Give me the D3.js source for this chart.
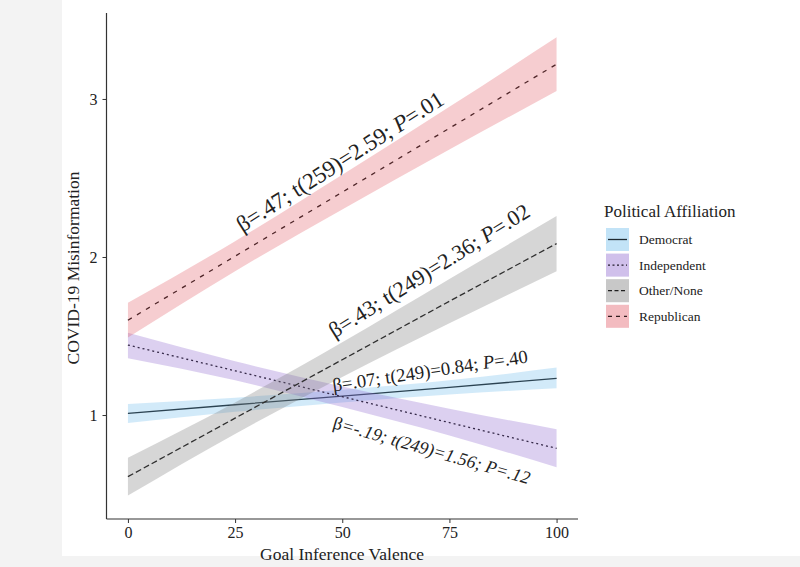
<!DOCTYPE html>
<html>
<head>
<meta charset="utf-8">
<script src="https://cdn.jsdelivr.net/npm/d3@7"></script>
<style>
  html, body { margin: 0; padding: 0; background: #ffffff; }
  svg { display: block; }
  text { font-family: "Liberation Serif", "DejaVu Serif", serif; fill: #222; }
</style>
</head>
<body>
<svg id="chart" width="800" height="567"></svg>
<script>
// ---- data ----
const groups = ["Democrat", "Independent", "Other/None", "Republican"];
const xValues = [0, 25, 50, 75, 100];
const fitDemocrat    = [1.01, 1.065, 1.12, 1.175, 1.232];
const loDemocrat     = [0.95, 1.02, 1.08, 1.13, 1.17];
const hiDemocrat     = [1.07, 1.11, 1.16, 1.22, 1.30];
const fitIndependent = [1.443, 1.28, 1.116, 0.952, 0.789];
const loIndependent  = [1.36, 1.22, 1.05, 0.87, 0.67];
const hiIndependent  = [1.52, 1.34, 1.18, 1.04, 0.91];
const fitOther       = [0.61, 0.98, 1.35, 1.72, 2.085];
const loOther        = [0.49, 0.88, 1.24, 1.58, 1.91];
const hiOther        = [0.73, 1.08, 1.46, 1.86, 2.26];
const fitRepublican  = [1.60, 2.005, 2.41, 2.815, 3.22];
const loRepublican   = [1.49, 1.91, 2.30, 2.68, 3.05];
const hiRepublican   = [1.71, 2.10, 2.52, 2.95, 3.39];
const xTicks = [0, 25, 50, 75, 100];
const yTicks = [1, 2, 3];
const xTitle = "Goal Inference Valence";
const yTitle = "COVID-19 Misinformation";
const legendTitle = "Political Affiliation";
// annotation parts: [text, italic]
const annRepublican  = [["β=.47; t(259)=2.59; ", false], ["P", true], ["=.01", false]];
const annOther       = [["β=.43; t(249)=2.36; ", false], ["P", true], ["=.02", false]];
const annDemocrat    = [["β=.07; t(249)=0.84; ", false], ["P", true], ["=.40", false]];
const annIndependent = [["β", false], ["=-.19; t(249)=1.56; P=.12", true]];

// ---- styles ----
const ribbonColor = {
  "Democrat": "rgb(105,185,235)",
  "Independent": "rgb(138,98,205)",
  "Other/None": "rgb(118,118,118)",
  "Republican": "rgb(225,88,98)"
};
const ribbonOpacity = 0.3;
const dashes = {
  "Democrat": null,
  "Independent": "2,3",
  "Other/None": "6,3",
  "Republican": "4.5,6"
};
const legendDashes = {
  "Democrat": null,
  "Independent": "2,2.5",
  "Other/None": "4,2.5",
  "Republican": "4,4"
};

const series = [
  { name: "Democrat", fit: fitDemocrat, lo: loDemocrat, hi: hiDemocrat },
  { name: "Independent", fit: fitIndependent, lo: loIndependent, hi: hiIndependent },
  { name: "Other/None", fit: fitOther, lo: loOther, hi: hiOther },
  { name: "Republican", fit: fitRepublican, lo: loRepublican, hi: hiRepublican }
];

const svg = d3.select("#chart");

// background (light grey margins of the screenshot)
svg.append("rect").attr("x", 0).attr("y", 0).attr("width", 800).attr("height", 567).attr("fill", "#f3f3f3");
svg.append("rect").attr("x", 62).attr("y", 0).attr("width", 738).attr("height", 556).attr("fill", "#ffffff");

const x = d3.scaleLinear().domain([-5, 105]).range([106.5, 578]);
const y = d3.scaleLinear().domain([0.342, 3.544]).range([519, 13]);

const g = svg.append("g");

// lines first, ribbons over them (tints the lines like the reference)
const line = d3.line().x((d) => x(d.x)).y((d) => y(d.v));
const area = d3.area().x((d) => x(d.x)).y0((d) => y(d.lo)).y1((d) => y(d.hi)).curve(d3.curveMonotoneX);

series.forEach((s) => {
  const pts = xValues.map((xv, i) => ({ x: xv, v: s.fit[i], lo: s.lo[i], hi: s.hi[i] }));
  g.append("path")
    .attr("d", line(pts))
    .attr("fill", "none")
    .attr("stroke", "#111")
    .attr("stroke-width", 1.3)
    .attr("stroke-dasharray", dashes[s.name]);
  g.append("path")
    .attr("d", area(pts))
    .attr("fill", ribbonColor[s.name])
    .attr("fill-opacity", ribbonOpacity);
});

// axes
const axisColor = "#333";
const xAxis = svg.append("g").attr("transform", "translate(0,519)")
  .call(d3.axisBottom(x).tickValues(xTicks).tickFormat(d3.format("d")).tickSize(4).tickPadding(4));
const yAxis = svg.append("g").attr("transform", "translate(106.5,0)")
  .call(d3.axisLeft(y).tickValues(yTicks).tickFormat(d3.format("d")).tickSize(4).tickPadding(5));
[xAxis, yAxis].forEach((a) => {
  a.attr("font-family", "Liberation Serif, serif").attr("font-size", 16);
  a.select(".domain").attr("stroke", axisColor).attr("stroke-width", 1.2);
  a.selectAll(".tick line").attr("stroke", axisColor).attr("stroke-width", 1);
  a.selectAll(".tick text").attr("fill", "#333");
});
xAxis.select(".domain").attr("d", "M106.5,0H578");
yAxis.select(".domain").attr("d", "M0,519V13");

// axis titles
svg.append("text").attr("x", 342).attr("y", 560).attr("text-anchor", "middle")
  .style("font-size", "17.5px").text(xTitle);
svg.append("text").attr("transform", "translate(73,268) rotate(-90)")
  .attr("text-anchor", "middle").attr("dominant-baseline", "central")
  .style("font-size", "17.5px").text(yTitle);

// annotations
function annotate(parts, cx, cy, angle, size) {
  const t = svg.append("text")
    .attr("transform", `translate(${cx},${cy}) rotate(${angle})`)
    .attr("text-anchor", "middle")
    .style("font-size", size + "px");
  parts.forEach((p) => {
    t.append("tspan").attr("font-style", p[1] ? "italic" : "normal").text(p[0]);
  });
}
annotate(annRepublican, 344, 168, -32.5, 22.8);
annotate(annOther, 433, 277, -32, 22);
annotate(annDemocrat, 431, 377, -8.5, 18.7);
annotate(annIndependent, 430, 456, 16, 18);

// legend
const lg = svg.append("g");
lg.append("text").attr("x", 604).attr("y", 217).style("font-size", "17px").text(legendTitle);
groups.forEach((name, i) => {
  const top = 228 + i * 25.6;
  const row = lg.append("g");
  row.append("rect").attr("x", 606).attr("y", top).attr("width", 23).attr("height", 23)
    .attr("fill", ribbonColor[name]).attr("fill-opacity", ribbonOpacity);
  row.append("line").attr("x1", 608).attr("x2", 627).attr("y1", top + 11.5).attr("y2", top + 11.5)
    .attr("stroke", "#111").attr("stroke-width", 1.3)
    .attr("stroke-dasharray", legendDashes[name]);
  row.append("rect").attr("x", 606).attr("y", top).attr("width", 23).attr("height", 23)
    .attr("fill", ribbonColor[name]).attr("fill-opacity", ribbonOpacity * 0.5);
  row.append("text").attr("x", 639).attr("y", top + 16).style("font-size", "13.5px").text(name);
});
</script>
</body>
</html>
